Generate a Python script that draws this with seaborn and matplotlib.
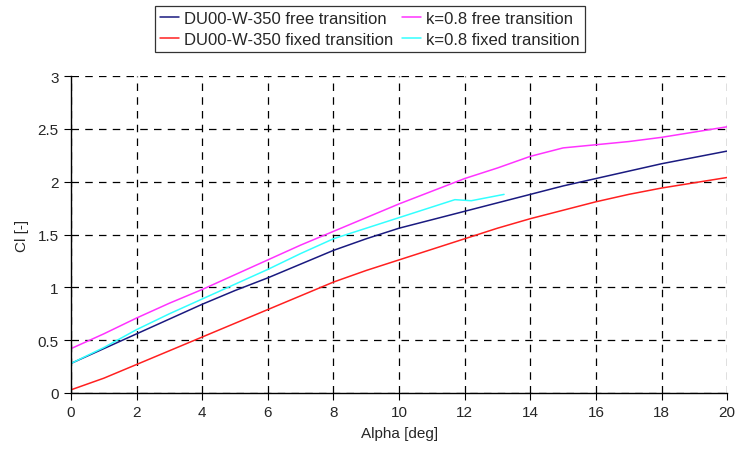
import matplotlib
matplotlib.use("Agg")
import matplotlib.pyplot as plt
import seaborn as sns
import pandas as pd

alpha = [0, 1, 2, 3, 4, 5, 6, 7, 8, 9, 10, 11, 12, 13, 14, 15, 16, 17, 18, 19, 20]
du_free = [0.28, 0.42, 0.56, 0.70, 0.84, 0.97, 1.09, 1.22, 1.35, 1.46, 1.56, 1.64, 1.72, 1.80, 1.88, 1.96, 2.03, 2.10, 2.17, 2.23, 2.29]
du_fixed = [0.03, 0.14, 0.27, 0.40, 0.53, 0.66, 0.79, 0.92, 1.05, 1.16, 1.26, 1.36, 1.46, 1.56, 1.65, 1.73, 1.81, 1.88, 1.94, 1.99, 2.04]
k_free = [0.42, 0.56, 0.71, 0.85, 0.98, 1.12, 1.26, 1.40, 1.53, 1.66, 1.79, 1.91, 2.03, 2.13, 2.24, 2.32, 2.35, 2.38, 2.42, 2.47, 2.52]

alpha_k_fixed = [0, 1, 2, 3, 4, 5, 6, 7, 8, 9, 10, 11, 11.7, 12.2, 13.2]
k_fixed = [0.28, 0.43, 0.60, 0.75, 0.89, 1.03, 1.17, 1.32, 1.46, 1.56, 1.66, 1.76, 1.83, 1.82, 1.88]

labels = ["DU00-W-350 free transition", "DU00-W-350 fixed transition",
          "k=0.8 free transition", "k=0.8 fixed transition"]
colors = ["#1a1a80", "#ff2020", "#ff33ff", "#33ffff"]

sns.set_style("white")
plt.rcParams['font.family'] = ['Liberation Sans', 'DejaVu Sans']

fig = plt.figure(figsize=(7.36, 4.56), dpi=100)
ax = fig.add_axes([0.0965, 0.136, 0.8915, 0.695])

series = [(alpha, du_free), (alpha, du_fixed), (alpha, k_free), (alpha_k_fixed, k_fixed)]
for (x, y), lab, c in zip(series, labels, colors):
    sns.lineplot(x=x, y=y, ax=ax, color=c, label=lab, linewidth=1.1)

ax.set_xlim(0, 20)
ax.set_ylim(0, 3)
ax.set_xticks(range(0, 21, 2))
ax.set_yticks([0, 0.5, 1, 1.5, 2, 2.5, 3])
ax.set_yticklabels(["0", "0.5", "1", "1.5", "2", "2.5", "3"])
ax.grid(True, color="black", linestyle=(0, (6, 5)), linewidth=0.9)
for s in ["top", "right"]:
    ax.spines[s].set_visible(False)
for s in ["left", "bottom"]:
    ax.spines[s].set_color("black")
    ax.spines[s].set_linewidth(1.0)
ax.tick_params(direction="out", length=5, width=0.8, color="black", labelsize=11,
               left=True, bottom=True, pad=4)
ax.set_xlabel("Alpha [deg]", fontsize=11, labelpad=5)
ax.set_ylabel("Cl [-]", fontsize=11, labelpad=6)

handles, labs = ax.get_legend_handles_labels()
ax.legend_.remove()
leg = fig.legend(handles, labs, ncol=2, loc="center", bbox_to_anchor=(0.5027, 0.934),
                 frameon=True, fancybox=False, fontsize=12, handlelength=1.15,
                 borderpad=0.3, labelspacing=0.35, columnspacing=0.5, handletextpad=0.3,
                 borderaxespad=0)
leg.get_frame().set_edgecolor("black")
leg.get_frame().set_linewidth(0.9)

fig.savefig("out.png", dpi=100)
